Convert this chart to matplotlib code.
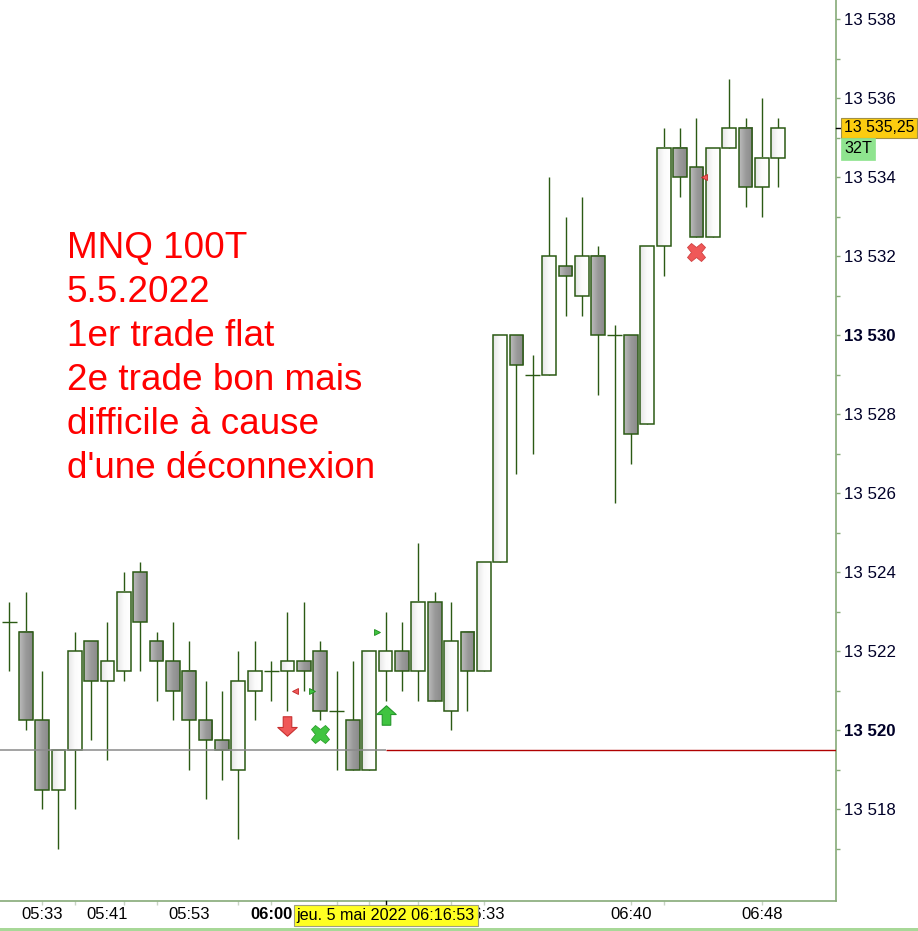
import numpy as np
import matplotlib.pyplot as plt
import matplotlib.transforms as mtransforms
from matplotlib.path import Path
from matplotlib.patches import Rectangle
from matplotlib.colors import LinearSegmentedColormap

plt.rcParams['font.family'] = ['Liberation Sans', 'DejaVu Sans']

# MNQ 100 tick bars, 5 May 2022
opens = [13522.75, 13522.5, 13520.25, 13518.5, 13519.5, 13522.25, 13521.25, 13521.5,
         13524.0, 13522.25, 13521.75, 13521.5, 13520.25, 13519.75, 13519.0, 13521.0,
         13521.5, 13521.5, 13521.75, 13522.0, 13520.5, 13520.25, 13519.0, 13521.5,
         13522.0, 13521.5, 13523.25, 13520.5, 13522.5, 13521.5, 13524.25, 13530.0,
         13529.0, 13529.0, 13531.75, 13531.0, 13532.0, 13530.0, 13530.0, 13527.75,
         13532.25, 13534.75, 13534.25, 13532.5, 13534.75, 13535.25, 13533.75, 13534.5]
highs = [13523.25, 13523.5, 13521.5, 13519.5, 13522.5, 13522.25, 13522.75, 13524.0,
         13524.25, 13522.5, 13522.75, 13522.25, 13521.25, 13521.0, 13522.0, 13522.25,
         13521.75, 13523.0, 13523.25, 13522.25, 13521.5, 13521.75, 13522.0, 13523.0,
         13522.75, 13524.75, 13523.5, 13523.25, 13522.5, 13524.25, 13530.0, 13530.0,
         13529.5, 13534.0, 13533.0, 13533.5, 13532.25, 13530.25, 13530.0, 13532.25,
         13535.25, 13535.25, 13535.5, 13534.75, 13536.5, 13535.5, 13536.0, 13535.5]
lows = [13521.5, 13520.0, 13518.0, 13517.0, 13518.0, 13519.75, 13519.25, 13521.25,
        13521.5, 13520.75, 13520.25, 13519.0, 13518.25, 13518.75, 13517.25, 13520.25,
        13520.75, 13520.5, 13521.0, 13520.25, 13519.0, 13519.0, 13519.0, 13520.75,
        13521.0, 13520.75, 13520.75, 13520.0, 13520.5, 13521.5, 13524.25, 13526.5,
        13527.0, 13529.0, 13530.5, 13530.5, 13528.5, 13525.75, 13526.75, 13527.75,
        13531.5, 13533.5, 13532.5, 13532.5, 13534.75, 13533.25, 13533.0, 13533.75]
closes = [13522.75, 13520.25, 13518.5, 13519.5, 13522.0, 13521.25, 13521.75, 13523.5,
          13522.75, 13521.75, 13521.0, 13520.25, 13519.75, 13519.5, 13521.25, 13521.5,
          13521.5, 13521.75, 13521.5, 13520.5, 13520.5, 13519.0, 13522.0, 13522.0,
          13521.5, 13523.25, 13520.75, 13522.25, 13521.5, 13524.25, 13530.0, 13529.25,
          13529.0, 13532.0, 13531.5, 13532.0, 13530.0, 13530.0, 13527.5, 13532.25,
          13534.75, 13534.0, 13532.5, 13534.75, 13535.25, 13533.75, 13534.5, 13535.25]

time_idx = [2, 6, 11, 16, 29, 38, 46]
time_labels = ['05:33', '05:41', '05:53', '06:00', '06:33', '06:40', '06:48']
xtick_idx = [2, 4, 7, 9, 14, 16, 20, 22, 25, 27, 29, 38, 40, 46]

level_price = 13519.5
cross_idx = 23
cross_label = 'jeu. 5 mai 2022 06:16:53'
tick_count = '32T'

# signals
short_arrow = (17, 13520.1)
long_arrow = (23, 13520.4)
green_x = (19, 13519.9)
red_x = (42, 13532.1)
red_tri = ([17.46, 42.46], [13521.0, 13534.0])
green_tri = ([18.5, 22.47], [13521.0, 13522.5])

note = ['MNQ 100T', '5.5.2022', '1er trade flat', '2e trade bon mais',
        'difficile à cause', "d'une déconnexion"]

edge = '#2b5a14'
axis_col = '#86aa78'
label_col = '#000028'

fig = plt.figure(figsize=(9.18, 9.31), dpi=100)
ax = fig.add_axes([0, 30 / 931, 836 / 918, 901 / 931])

bull_cmap = LinearSegmentedColormap.from_list('bull', ['#e6e6e6', '#fbfbfb', '#ffffff'])
bear_cmap = LinearSegmentedColormap.from_list('bear', ['#bcbcbc', '#9a9a9a', '#8a8a8a'])
grad = np.linspace(0, 1, 32).reshape(1, -1)

w = 0.84
n = len(opens)
x = np.arange(n)
ax.vlines(x, lows, highs, color=edge, lw=1.0, zorder=1)
for i in range(n):
    o, c = opens[i], closes[i]
    if o == c:
        ax.hlines(o, i - w / 2 - 0.04, i + w / 2 + 0.04, color=edge, lw=1.0, zorder=3)
        continue
    lo, hi = min(o, c), max(o, c)
    cmap = bull_cmap if c > o else bear_cmap
    ax.imshow(grad, cmap=cmap, extent=[i - w / 2, i + w / 2, lo, hi],
              aspect='auto', interpolation='bilinear', zorder=2)
    ax.add_patch(Rectangle((i - w / 2, lo), w, hi - lo, fill=False,
                           ec=edge, lw=1.1, zorder=3))

xmin, xmax = -0.568, 50.53
ymin, ymax = 13515.68, 13538.49

# horizontal level lines
ax.hlines(level_price, xmin, cross_idx, color='#8a8a8a', lw=1.1, zorder=4)
ax.hlines(level_price, cross_idx, xmax, color='#b00000', lw=1.0, zorder=4)

# arrow markers
down_path = Path([(-0.22, 0.5), (0.22, 0.5), (0.22, -0.05), (0.5, -0.05), (0, -0.5),
                  (-0.5, -0.05), (-0.22, -0.05), (-0.22, 0.5)], closed=True)
up_path = Path([(-0.22, -0.5), (0.22, -0.5), (0.22, 0.05), (0.5, 0.05), (0, 0.5),
                (-0.5, 0.05), (-0.22, 0.05), (-0.22, -0.5)], closed=True)
ax.plot(*short_arrow, marker=down_path, ms=14, mfc='#f05858', mec='#c83030', mew=0.8,
        ls='none', zorder=6)
ax.plot(*long_arrow, marker=up_path, ms=14, mfc='#40c440', mec='#24962a', mew=0.8,
        ls='none', zorder=6)
ax.plot(*green_x, marker='X', ms=13, mfc='#40c440', mec='#2aa02a', mew=0.6, ls='none', zorder=6)
ax.plot(*red_x, marker='X', ms=13, mfc='#f05858', mec='#d04040', mew=0.6, ls='none', zorder=6)
ax.plot(*red_tri, marker='<', ms=4.5, mfc='#f05858', mec='#c02828', mew=0.6, ls='none', zorder=6)
ax.plot(*green_tri, marker='>', ms=4.5, mfc='#40c440', mec='#1e8a1e', mew=0.6, ls='none', zorder=6)

ax.set_xlim(xmin, xmax)
ax.set_ylim(ymin, ymax)

# annotation text
for k, line in enumerate(note):
    yb = 257.7 + 44.1 * k
    ax.text(67 / 836, (901 - yb) / 901, line, transform=ax.transAxes, fontsize=26.6,
            color='#ff0000', va='baseline', ha='left', zorder=7)

# axes styling
for s in ['top', 'left']:
    ax.spines[s].set_visible(False)
for s in ['right', 'bottom']:
    ax.spines[s].set_color(axis_col)
    ax.spines[s].set_linewidth(1.2)

ax.yaxis.tick_right()
major = np.arange(13518, 13539, 2)
minor = np.arange(13517, 13539, 2)
ax.set_yticks(major, [f'{v:,.0f}'.replace(',', ' ') for v in major])
ax.set_yticks(minor, minor=True)
ax.tick_params(axis='y', which='both', length=3, width=1, color=axis_col, pad=3,
               labelsize=12.2, labelcolor=label_col)
for v, lab in zip(major, ax.get_yticklabels()):
    if v in (13520, 13530):
        lab.set_fontweight('bold')

ax.set_xticks(xtick_idx, [''] * len(xtick_idx))
ax.tick_params(axis='x', length=3, width=1, color='#c8d4c4')

bt = mtransforms.blended_transform_factory(ax.transData, ax.transAxes)
for i, lab in zip(time_idx, time_labels):
    ax.text(i, -0.0155, lab, transform=bt, ha='center', va='center', fontsize=12,
            color='#000000', fontweight='bold' if lab == '06:00' else 'normal',
            clip_on=False, zorder=5)

# crosshair tick + date box
ax.plot([cross_idx, cross_idx], [0, -0.0075], transform=bt, color='black', lw=1,
        clip_on=False, zorder=8)
ax.text(cross_idx, -0.0165, cross_label, transform=bt, ha='center', va='center',
        fontsize=11.6, color='black', clip_on=False, zorder=9,
        bbox=dict(boxstyle='square,pad=0.18', fc='#ffff22', ec='#a0a080', lw=0.8))

# last price labels on the right axis
rt = mtransforms.blended_transform_factory(ax.transAxes, ax.transData)
last = closes[-1]
ax.plot([1.0, 1.006], [last, last], transform=rt, color='black', lw=1, clip_on=False, zorder=8)
price_txt = f'{last:,.2f}'.replace(',', ' ').replace('.', ',')
ax.text(1.0096, last, price_txt, transform=rt, ha='left', va='center', fontsize=11.4,
        color='black', clip_on=False, zorder=9,
        bbox=dict(boxstyle='square,pad=0.18', fc='#fccc10', ec='#a09048', lw=0.8))
ax.annotate(tick_count, xy=(1.0096, last), xycoords=rt, xytext=(0, -21),
            textcoords='offset pixels', ha='left', va='center', fontsize=11.6,
            color='black', annotation_clip=False, zorder=9,
            bbox=dict(boxstyle='square,pad=0.2', fc='#8fe48f', ec='#8fe48f', lw=0.5))

# bottom status strip
fig.add_artist(Rectangle((0, 0), 1, 3 / 931, transform=fig.transFigure,
                         fc='#a8d898', ec='none'))

fig.savefig('out.png', dpi=100)
